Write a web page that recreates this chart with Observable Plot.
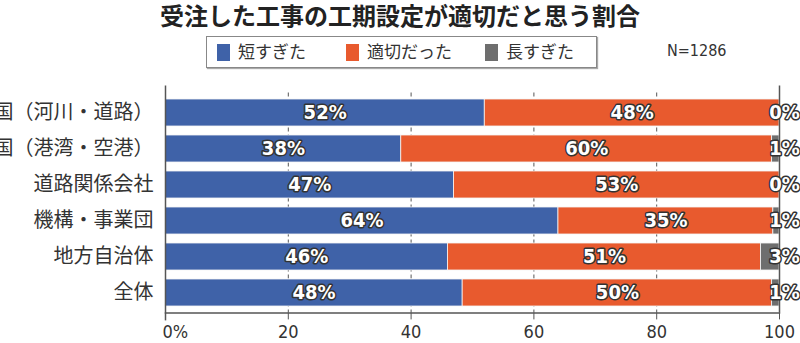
<!DOCTYPE html>
<html><head><meta charset="utf-8">
<script src="https://cdn.jsdelivr.net/npm/d3@7"></script>
<script src="https://cdn.jsdelivr.net/npm/@observablehq/plot@0.6"></script>
<style>
body{margin:0;background:#fff;width:800px;height:343px;overflow:hidden;font-family:"Noto Sans CJK JP",sans-serif;color:#333;}
#head{position:relative;height:80px;width:800px;}
#title{position:absolute;left:0;width:800px;top:1px;text-align:center;font-size:24px;font-weight:bold;color:#222;line-height:28px;}
#legend{position:absolute;left:206px;top:36px;width:391px;height:32px;border:1.5px solid #888;box-sizing:border-box;box-shadow:1px 1px 1px #aaa;}
.item{position:absolute;top:2px;font-size:17px;line-height:24px;color:#333;}
.sw{display:inline-block;width:13px;height:17px;vertical-align:-3px;margin-right:8px;}
#n{position:absolute;left:667px;top:41px;font-family:"DejaVu Sans Condensed","DejaVu Sans",sans-serif;font-stretch:condensed;font-size:16px;color:#333;}
svg text{font-stretch:condensed;}
</style></head>
<body>
<div id="head">
  <div id="title">受注した工事の工期設定が適切だと思う割合</div>
  <div id="legend"></div>
  <div id="n">N=1286</div>
</div>
<div id="chart"></div>
<script>
const categories = ["国（河川・道路）","国（港湾・空港）","道路関係会社","機構・事業団","地方自治体","全体"];
const series = ["短すぎた","適切だった","長すぎた"];
const tooShort    = [52, 38.4, 47, 64, 46, 48.4];
const appropriate = [48, 60.4, 53, 35, 51, 50.4];
const tooLong     = [0, 1.2, 0, 1, 3, 1.2];
const xTicks = [20, 40, 60, 80, 100];
const colors = ["#3F62A8", "#E85A2E", "#6E6E6E"];

const data = categories.flatMap((c, i) => [
  {cat: c, series: series[0], value: tooShort[i]},
  {cat: c, series: series[1], value: appropriate[i]},
  {cat: c, series: series[2], value: tooLong[i]}
]);

// legend
const legend = document.getElementById("legend");
const lx = [10, 139, 278];
series.forEach((s, i) => {
  const d = document.createElement("div");
  d.className = "item";
  d.style.left = lx[i] + "px";
  d.innerHTML = `<span class="sw" style="background:${colors[i]}"></span>${s}`;
  legend.appendChild(d);
});

const numFont = '"DejaVu Sans Condensed","DejaVu Sans",sans-serif';
const labelStyle = {fill: "white", stroke: "#333", strokeWidth: 3, paintOrder: "stroke",
  fontWeight: "bold", fontSize: 20, fontFamily: numFont};

const chart = Plot.plot({
  width: 800, height: 263,
  marginTop: 12.5, marginBottom: 30.6, marginLeft: 165, marginRight: 21,
  style: {background: "white", color: "#333"},
  x: {domain: [0, 100], axis: null, label: null},
  y: {domain: categories, paddingInner: 0.26, paddingOuter: 0.15, axis: null, label: null},
  color: {domain: series, range: colors},
  marks: [
    Plot.ruleX([20, 40, 60, 80], {stroke: "#555", strokeDasharray: "4,3", strokeWidth: 1}),
    Plot.barX(data, Plot.stackX({x: "value", y: "cat", fill: "series", order: series, stroke: "#f4f4f4", strokeWidth: 0.8})),
    Plot.ruleX([0], {stroke: "#555", strokeWidth: 1.5, insetTop: -7, insetBottom: -8}),
    Plot.ruleX([100], {stroke: "#555", strokeWidth: 1.5, insetTop: -7}),
    Plot.frame({anchor: "bottom", stroke: "#555", strokeWidth: 1.5}),
    Plot.axisX({ticks: xTicks, label: null, tickSize: 7, tickPadding: 5, fontSize: 18, fontFamily: numFont, stroke: "#555", fill: "#333"}),
    Plot.text(["0%"], {frameAnchor: "bottom-left", textAnchor: "start", lineAnchor: "top", dx: -3, dy: 12, fontSize: 18, fontFamily: numFont, fill: "#333"}),
    Plot.axisY({label: null, tickSize: 0, tickPadding: 12, fontSize: 20, fontFamily: '"Noto Sans CJK JP",sans-serif', fill: "#333"}),
    Plot.text(data.filter(d => d.series !== series[2]),
      Plot.stackX({x: "value", y: "cat", z: "series", order: series, text: d => Math.round(d.value) + "%", ...labelStyle})),
    Plot.text(data.filter(d => d.series === series[2]),
      {y: "cat", frameAnchor: "right", textAnchor: "middle", dx: 5, text: d => Math.round(d.value) + "%", ...labelStyle})
  ]
});
document.getElementById("chart").appendChild(chart);
</script>
</body></html>
